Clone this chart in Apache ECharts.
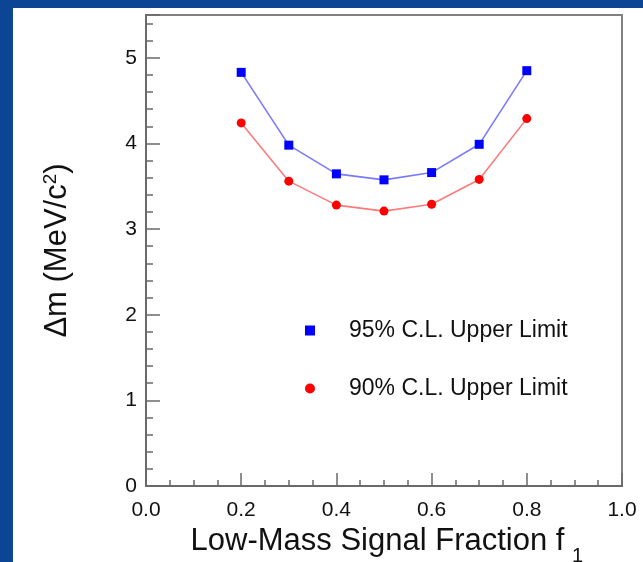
<!DOCTYPE html>
<html>
<head>
<meta charset="utf-8">
<script src="https://cdn.jsdelivr.net/npm/echarts@6/dist/echarts.min.js"></script>
<style>
html,body{margin:0;padding:0;background:#0c4593;}
#c{width:643px;height:562px;}
</style>
</head>
<body>
<div id="c"></div>
<script>
const fractions = [0.2, 0.3, 0.4, 0.5, 0.6, 0.7, 0.8];
const upper95 = [4.83, 3.98, 3.645, 3.575, 3.66, 3.99, 4.85];
const upper90 = [4.24, 3.56, 3.28, 3.21, 3.29, 3.58, 4.29];
const seriesNames = ['95% C.L. Upper Limit', '90% C.L. Upper Limit'];
const xTitle = 'Low-Mass Signal Fraction f';
const xTitleSub = '1';
const yTitle = 'Δm (MeV/c{sup|2})';

const FONT = '"Liberation Sans", Arial, Helvetica, sans-serif';
const chart = echarts.init(document.getElementById('c'));

const pairs = (xs, ys) => xs.map((x, i) => [x, ys[i]]);
const axisGray = '#6a6a6a';

chart.setOption({
  backgroundColor: '#0c4593',
  animation: false,
  textStyle: { fontFamily: FONT },
  graphic: [
    { type: 'rect', z: -100, shape: { x: 13, y: 8, width: 630, height: 554 }, style: { fill: '#ffffff' } },
    { type: 'text', left: 572, top: 546, style: { text: xTitleSub, fontSize: 20, fontFamily: FONT, fill: '#111' } }
  ],
  grid: { left: 146, top: 15, right: 21, bottom: 76, show: true, borderColor: '#808080', borderWidth: 2, backgroundColor: 'transparent' },
  legend: {
    orient: 'vertical', left: 300, top: 314, itemGap: 35,
    itemWidth: 10, itemHeight: 10,
    textStyle: { fontSize: 23, color: '#111', fontFamily: FONT, padding: [0, 0, 0, 29] },
    data: [
      { name: seriesNames[0], icon: 'rect', itemStyle: { color: '#0000ff' } },
      { name: seriesNames[1], icon: 'circle', itemStyle: { color: '#ff0000' } }
    ]
  },
  xAxis: {
    type: 'value', min: 0, max: 1, interval: 0.2,
    name: xTitle, nameLocation: 'middle', nameGap: 28,
    nameTextStyle: { fontSize: 31, color: '#111', fontFamily: FONT, padding: [0, 13, 0, 0] },
    axisLine: { lineStyle: { color: axisGray, width: 2 } },
    axisTick: { inside: true, length: 13, lineStyle: { color: axisGray, width: 1.5 } },
    minorTick: { show: true, splitNumber: 4, length: 6, lineStyle: { color: axisGray, width: 1.5 } },
    splitLine: { show: false },
    axisLabel: { fontSize: 21, color: '#111', margin: 14, formatter: v => v.toFixed(1) }
  },
  yAxis: [
    {
      type: 'value', min: 0, max: 5.5, interval: 0.2,
      name: yTitle, nameLocation: 'middle', nameGap: 72, nameRotate: 90,
      nameTextStyle: { fontSize: 31, color: '#111', fontFamily: FONT,
        rich: { sup: { fontSize: 19, verticalAlign: 'top', padding: [0, 0, 14, 0], color: '#111', fontFamily: FONT } } },
      axisLine: { lineStyle: { color: axisGray, width: 2 } },
      axisTick: { inside: true, length: 7, lineStyle: { color: axisGray, width: 1.5 } },
      splitLine: { show: false },
      axisLabel: { fontSize: 21, color: '#111', margin: 9,
        formatter: v => (Math.abs(v - Math.round(v)) < 1e-6 && v <= 5) ? String(Math.round(v)) : '' }
    },
    {
      type: 'value', min: 0, max: 5.5, interval: 1, position: 'left',
      axisLine: { show: false },
      axisTick: { inside: true, length: 14, lineStyle: { color: axisGray, width: 1.5 } },
      splitLine: { show: false },
      axisLabel: { show: false }
    }
  ],
  series: [
    {
      name: seriesNames[0], type: 'line', data: pairs(fractions, upper95),
      symbol: 'rect', symbolSize: 9,
      itemStyle: { color: '#0000ff' },
      lineStyle: { color: '#7a7aff', width: 1.6 }
    },
    {
      name: seriesNames[1], type: 'line', data: pairs(fractions, upper90),
      symbol: 'circle', symbolSize: 9,
      itemStyle: { color: '#ff0000' },
      lineStyle: { color: '#ff7a7a', width: 1.6 }
    }
  ]
});
</script>
</body>
</html>
